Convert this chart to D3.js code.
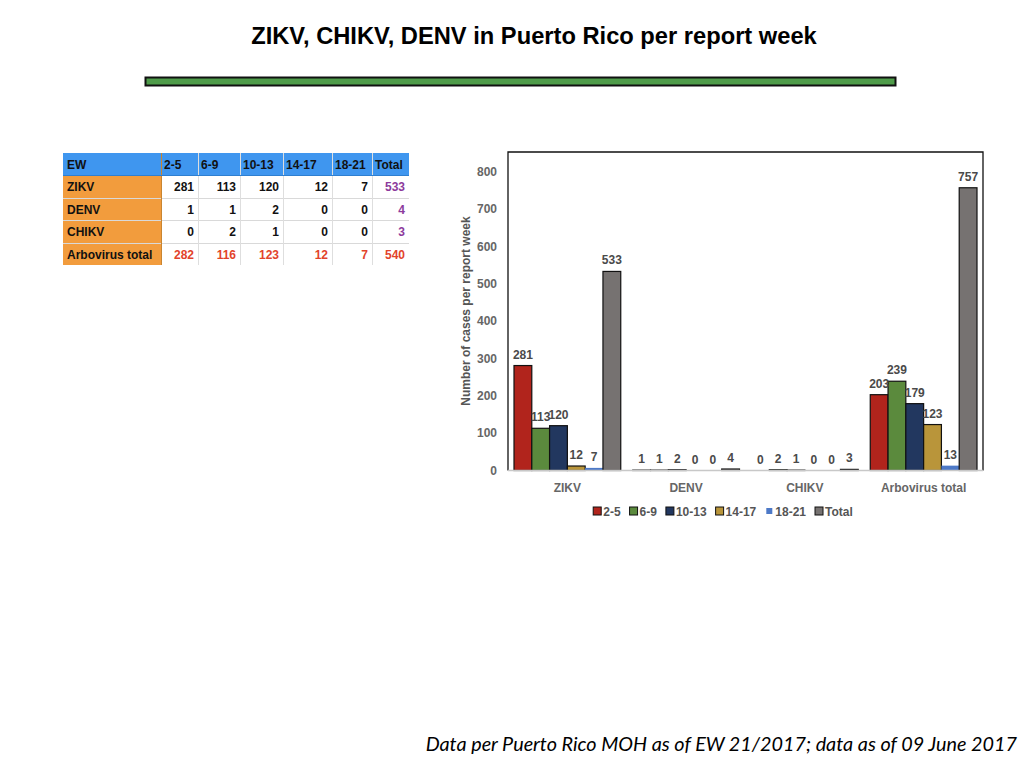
<!DOCTYPE html>
<html>
<head>
<meta charset="utf-8">
<script src="https://cdn.jsdelivr.net/npm/d3@7"></script>
<style>
  html, body { margin: 0; padding: 0; background: #fff; }
  svg { display: block; }
  text { font-family: 'Liberation Sans', Arial, Helvetica, sans-serif; }
</style>
</head>
<body>
<svg id="slide" width="1024" height="768"></svg>
<script>
// table data
const tableWeeks = ['2-5', '6-9', '10-13', '14-17', '18-21', 'Total'];
const tableRows = ['ZIKV', 'DENV', 'CHIKV', 'Arbovirus total'];
const tableZikv = [281, 113, 120, 12, 7, 533];
const tableDenv = [1, 1, 2, 0, 0, 4];
const tableChikv = [0, 2, 1, 0, 0, 3];
const tableArbo = [282, 116, 123, 12, 7, 540];

// chart data
const categories = ['ZIKV', 'DENV', 'CHIKV', 'Arbovirus total'];
const series = ['2-5', '6-9', '10-13', '14-17', '18-21', 'Total'];
const week2to5 = [281, 1, 0, 203];
const week6to9 = [113, 1, 2, 239];
const week10to13 = [120, 2, 1, 179];
const week14to17 = [12, 0, 0, 123];
const week18to21 = [7, 0, 0, 13];
const weekTotal = [533, 4, 3, 757];
const yTicks = [0, 100, 200, 300, 400, 500, 600, 700, 800];

const seriesValues = [week2to5, week6to9, week10to13, week14to17, week18to21, weekTotal];
const colors = ['#b1241c', '#5b8a3d', '#22375f', '#b9953a', '#4d79c7', '#767271'];

const svg = d3.select('#slide');

// title + green rule
svg.append('text')
  .attr('x', 534)
  .attr('y', 44)
  .attr('text-anchor', 'middle')
  .style('font-size', '23.7px')
  .style('font-weight', 'bold')
  .attr('fill', '#000')
  .text('ZIKV, CHIKV, DENV in Puerto Rico per report week');

svg.append('rect')
  .attr('x', 145.5)
  .attr('y', 77.5)
  .attr('width', 750)
  .attr('height', 8)
  .attr('fill', '#4f9c4a')
  .attr('stroke', '#111')
  .attr('stroke-width', 2);

// footer
svg.append('text')
  .attr('x', 1017)
  .attr('y', 751)
  .attr('text-anchor', 'end')
  .style('font-family', 'Lato, "Open Sans", sans-serif')
  .style('font-style', 'italic')
  .style('font-size', '19.8px')
  .attr('fill', '#000')
  .text('Data per Puerto Rico MOH as of EW 21/2017; data as of 09 June 2017');

function drawTable() {
  const colEdges = [63, 161, 198, 240, 283, 332, 372, 409];
  const rowEdges = [153, 175, 198, 220, 243, 265];
  const bodyValues = [tableZikv, tableDenv, tableChikv, tableArbo];
  const g = svg.append('g').attr('class', 'table');

  g.append('rect')
    .attr('x', colEdges[0])
    .attr('y', rowEdges[0])
    .attr('width', colEdges[7] - colEdges[0])
    .attr('height', rowEdges[5] - rowEdges[0])
    .attr('fill', '#fff');

  g.append('rect')
    .attr('x', colEdges[0])
    .attr('y', rowEdges[0])
    .attr('width', colEdges[7] - colEdges[0])
    .attr('height', rowEdges[1] - rowEdges[0])
    .attr('fill', '#3f96ef');

  g.append('rect')
    .attr('x', colEdges[0])
    .attr('y', rowEdges[1])
    .attr('width', colEdges[1] - colEdges[0])
    .attr('height', rowEdges[5] - rowEdges[1])
    .attr('fill', '#f29c3d');

  // grid lines
  g.selectAll('.hline')
    .data(rowEdges.slice(2, 5))
    .enter()
    .append('line')
    .attr('x1', colEdges[0])
    .attr('x2', colEdges[7])
    .attr('y1', d => d + 0.5)
    .attr('y2', d => d + 0.5)
    .attr('stroke', '#d9d9d9');

  g.selectAll('.vline')
    .data(colEdges.slice(1, 7))
    .enter()
    .append('line')
    .attr('x1', d => d + 0.5)
    .attr('x2', d => d + 0.5)
    .attr('y1', rowEdges[0])
    .attr('y2', rowEdges[5])
    .attr('stroke', (d, i) => (i === 0 ? '#c98530' : '#dedede'));

  g.append('line')
    .attr('x1', colEdges[0])
    .attr('x2', colEdges[7])
    .attr('y1', rowEdges[1] + 0.5)
    .attr('y2', rowEdges[1] + 0.5)
    .attr('stroke', '#2f7fd0');

  const textStyle = sel => sel
    .style('font-size', '12px')
    .style('font-weight', 'bold');

  g.append('text')
    .attr('x', colEdges[0] + 4)
    .attr('y', rowEdges[0] + 15.5)
    .attr('fill', '#111')
    .call(textStyle)
    .text('EW');

  g.selectAll('.head')
    .data(tableWeeks)
    .enter()
    .append('text')
    .attr('x', (d, i) => colEdges[i + 1] + 3)
    .attr('y', rowEdges[0] + 15.5)
    .attr('fill', '#111')
    .call(textStyle)
    .text(d => d);

  g.selectAll('.rowlabel')
    .data(tableRows)
    .enter()
    .append('text')
    .attr('x', colEdges[0] + 4)
    .attr('y', (d, i) => rowEdges[i + 1] + 15.5)
    .attr('fill', '#111')
    .call(textStyle)
    .text(d => d);

  bodyValues.forEach((row, r) => {
    g.selectAll('.cell-' + r)
      .data(row)
      .enter()
      .append('text')
      .attr('x', (d, i) => colEdges[i + 2] - 4)
      .attr('y', rowEdges[r + 1] + 15.5)
      .attr('text-anchor', 'end')
      .attr('fill', (d, i) => {
        if (r === 3) return '#e2432b';
        return i === 5 ? '#8d3a9c' : '#111';
      })
      .call(textStyle)
      .text(d => d);
  });
}

function drawChart() {
  const left = 508;
  const right = 983;
  const top = 152;
  const bottom = 470.5;

  const y = d3.scaleLinear().domain([0, 850]).range([bottom, bottom - 850 * 0.3735]);
  const x0 = d3.scaleBand().domain(categories).range([left, right]).padding(0);
  const x1 = d3.scaleBand().domain(series).range([6, x0.bandwidth() - 6]).padding(0);

  const g = svg.append('g').attr('class', 'chart');

  const bars = [];
  series.forEach((s, si) => {
    categories.forEach((c, ci) => {
      bars.push({ series: s, category: c, value: seriesValues[si][ci], color: colors[si] });
    });
  });

  g.selectAll('.bar')
    .data(bars.filter(d => d.value > 0))
    .enter()
    .append('rect')
    .attr('class', 'bar')
    .attr('x', d => x0(d.category) + x1(d.series))
    .attr('y', d => y(d.value))
    .attr('width', x1.bandwidth())
    .attr('height', d => y(0) - y(d.value))
    .attr('fill', d => d.color)
    .attr('stroke', d => (d.series === '18-21' ? 'none' : '#111'))
    .attr('stroke-width', 1.2);

  g.selectAll('.value')
    .data(bars)
    .enter()
    .append('text')
    .attr('x', d => x0(d.category) + x1(d.series) + x1.bandwidth() / 2)
    .attr('y', d => y(d.value) - 7)
    .attr('text-anchor', 'middle')
    .style('font-size', '12px')
    .style('font-weight', 'bold')
    .attr('fill', '#4a4a4a')
    .text(d => d.value);

  // frame
  g.append('path')
    .attr('d', `M${left},${bottom}V${top}H${right}V${bottom}`)
    .attr('fill', 'none')
    .attr('stroke', '#111')
    .attr('stroke-width', 1.3);

  g.append('line')
    .attr('x1', left)
    .attr('x2', right)
    .attr('y1', bottom)
    .attr('y2', bottom)
    .attr('stroke', '#c8c8c8')
    .attr('stroke-width', 1.3);

  const yAxis = g.append('g')
    .attr('transform', `translate(${left},0)`)
    .call(d3.axisLeft(y).tickValues(yTicks).tickSize(0).tickPadding(11));
  yAxis.select('.domain').remove();
  yAxis.selectAll('text')
    .style('font-family', "'Liberation Sans', Arial, sans-serif")
    .style('font-size', '12px')
    .style('font-weight', 'bold')
    .attr('fill', '#666');

  const xAxis = g.append('g')
    .attr('transform', `translate(0,${bottom})`)
    .call(d3.axisBottom(x0).tickSize(0).tickPadding(13));
  xAxis.select('.domain').remove();
  xAxis.selectAll('text')
    .style('font-family', "'Liberation Sans', Arial, sans-serif")
    .style('font-size', '12px')
    .style('font-weight', 'bold')
    .attr('fill', '#666');

  g.append('text')
    .attr('transform', 'translate(470,311) rotate(-90)')
    .attr('text-anchor', 'middle')
    .style('font-size', '12px')
    .style('font-weight', 'bold')
    .attr('fill', '#555')
    .text('Number of cases per report week');

  // legend
  const legend = g.append('g').attr('class', 'legend');
  const items = legend.selectAll('.item')
    .data(series)
    .enter()
    .append('g')
    .attr('class', 'item');

  items.append('rect')
    .attr('width', (d, i) => (i === 4 ? 6 : 8))
    .attr('height', (d, i) => (i === 4 ? 6 : 8))
    .attr('y', (d, i) => (i === 4 ? -8 : -9))
    .attr('x', (d, i) => (i === 4 ? 1 : 0))
    .attr('fill', (d, i) => colors[i])
    .attr('stroke', (d, i) => (i === 4 ? 'none' : '#111'))
    .attr('stroke-width', 1);

  items.append('text')
    .attr('x', 10)
    .attr('y', 0)
    .style('font-size', '12px')
    .style('font-weight', 'bold')
    .attr('fill', '#555')
    .text(d => d);

  let cursor = 0;
  items.each(function() {
    const item = d3.select(this);
    const w = item.select('text').node().getComputedTextLength();
    item.attr('transform', `translate(${cursor},0)`);
    cursor += 10 + w + 9;
  });
  legend.attr('transform', `translate(${723 - (cursor - 9) / 2},516)`);
}

drawTable();
drawChart();
</script>
</body>
</html>
